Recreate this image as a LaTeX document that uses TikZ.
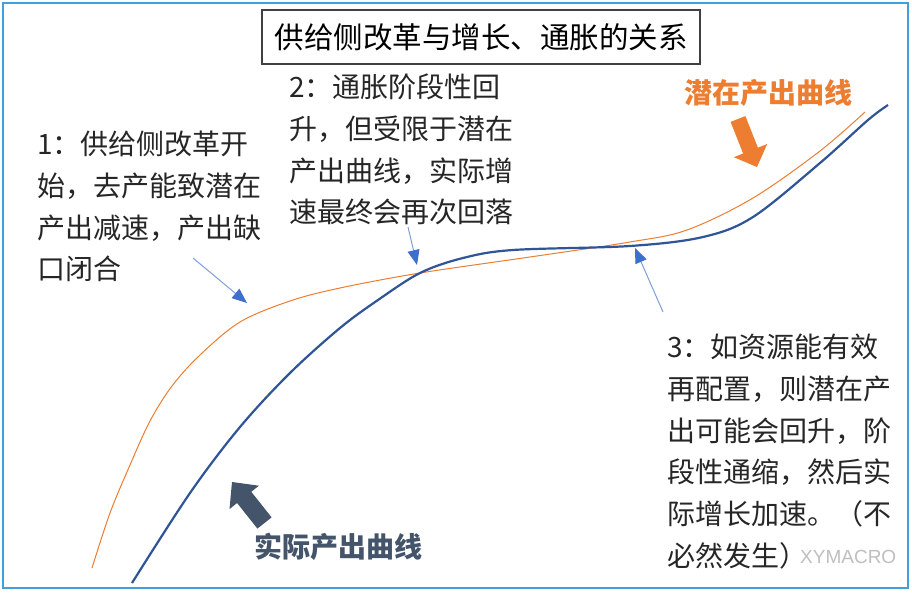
\documentclass[tikz,border=0pt]{standalone}
\usepackage{fontspec}
\newfontfamily\cjk{Noto Sans CJK SC}
\newfontfamily\wmfont{Liberation Sans}
\usetikzlibrary{arrows.meta}
\definecolor{framebl}{HTML}{41A0DC}
\definecolor{potor}{HTML}{ED7D31}
\definecolor{actbl}{HTML}{2F5597}
\definecolor{slate}{HTML}{44546A}
\definecolor{ptrline}{HTML}{7F9FD8}
\definecolor{ptrhead}{HTML}{3F6FCC}
\definecolor{txt}{HTML}{262626}
\begin{document}
\begin{tikzpicture}[x=1pt,y=-1pt,
  note/.style={font=\cjk\fontsize{28}{41.7}\selectfont, text=txt, align=left, anchor=north west, inner sep=0pt},
  curvelabel/.style={font=\cjk\bfseries\fontsize{28}{34}\selectfont, inner sep=0pt},
  pointer/.style={draw=ptrline, line width=1pt, -{Triangle[length=15pt,width=12pt,color=ptrhead]}},
]
\useasboundingbox (0,0) rectangle (912,593);
\fill[white] (0,0) rectangle (912,593);
\draw[framebl, line width=1.3pt] (3,3) rectangle (908,588);

% title
\node[draw=black!75, line width=1.3pt, minimum width=438pt, minimum height=54pt, inner sep=0pt,
      font=\cjk\fontsize{29.5}{34}\selectfont, text=black] (title) at (481,37) {供给侧改革与增长、通胀的关系};

% curves
\draw[potor, line width=1pt] plot[smooth, tension=0.55] coordinates {
 (92,568) (110,513) (130,465) (150,421) (172,386) (200,355) (240,322) (290,301) (340,288)
 (420,273) (530,257) (630,242) (687,230) (753,198) (820,151) (865,112)};
\draw[actbl, line width=2.2pt] plot[smooth, tension=0.55] coordinates {
 (132,583) (190,493) (240,427) (290,373) (340,328) (378,300) (420,273) (463,258) (513,250)
 (630,246) (703,237) (753,217) (820,163) (868,120) (888,105)};

% notes
\node[note] (n1) at (37,131) {1：供给侧改革开\\始，去产能致潜在\\产出减速，产出缺\\口闭合};
\node[note] (n2) at (289,74) {2：通胀阶段性回\\升，但受限于潜在\\产出曲线，实际增\\速最终会再次回落};
\node[note] (n3) at (667,334) {3：如资源能有效\\再配置，则潜在产\\出可能会回升，阶\\段性通缩，然后实\\际增长加速。（不\\必然发生）};

% pointers
\coordinate (p1s) at (193,258); \coordinate (p1e) at (247,303);
\coordinate (p2s) at (408,227); \coordinate (p2e) at (417,265);
\coordinate (p3s) at (663,312); \coordinate (p3e) at (635,248);
\draw[pointer] (p1s) -- (p1e);
\draw[pointer] (p2s) -- (p2e);
\draw[pointer] (p3s) -- (p3e);

% curve labels
\node[curvelabel, text=potor] (lpot) at (768,93) {潜在产出曲线};
\node[curvelabel, text=slate] (lact) at (338,547) {实际产出曲线};

% block arrows
\fill[potor] (730.6,121.9) -- (745.4,116.1) -- (757.9,147.7) -- (767.2,144.0) -- (757,167)
  -- (733.8,157.2) -- (743.1,153.5) -- cycle;
\fill[slate] (257.4,528.6) -- (271.6,517.4) -- (251.3,491.8) -- (258.9,485.7) -- (232,482)
  -- (229.5,509.1) -- (237.1,503.0) -- cycle;

% watermark
\node[font=\wmfont\fontsize{19}{22}\selectfont, text=black!25, inner sep=0pt, anchor=base west] (wm) at (800,563) {XYMACRO};
\end{tikzpicture}
\end{document}
